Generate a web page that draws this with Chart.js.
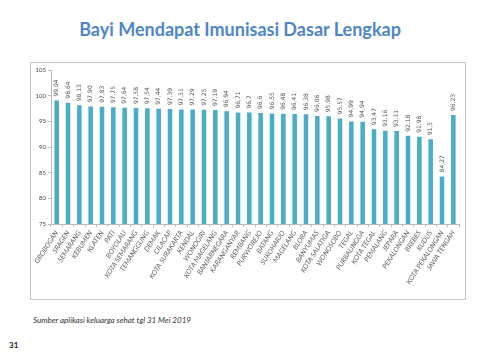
<!DOCTYPE html>
<html lang="id">
<head>
<meta charset="UTF-8">
<title>Bayi Mendapat Imunisasi Dasar Lengkap</title>
<script src="https://cdn.jsdelivr.net/npm/chart.js"></script>
<style>
  body { margin: 0; width: 480px; height: 360px; background: #fff; position: relative; overflow: hidden; font-family: Lato, "Open Sans", sans-serif; }
  h1 { position: absolute; left: 0; width: 480px; top: 18px; margin: 0; text-align: center; font-size: 18px; font-weight: bold; color: #4f86c6; }
  .box { position: absolute; left: 30px; top: 62px; width: 436px; height: 238px; border: 1px solid #c8c8c8; box-sizing: border-box; }
  .src { position: absolute; left: 33px; top: 315px; font-size: 8px; font-style: italic; color: #333; }
  .pg { position: absolute; left: 9px; top: 340px; font-size: 8px; font-weight: bold; color: #222; }
</style>
</head>
<body>
<h1>Bayi Mendapat Imunisasi Dasar Lengkap</h1>
<div class="box"><canvas id="chart"></canvas></div>
<div class="src">Sumber aplikasi keluarga sehat tgl 31 Mei 2019</div>
<div class="pg">31</div>
<script>
const daerah = ["GROBOGAN", "SRAGEN", "SEMARANG", "KEBUMEN", "KLATEN", "PATI", "BOYOLALI", "KOTA SEMARANG",
  "TEMANGGUNG", "DEMAK", "CILACAP", "KOTA SURAKARTA", "KENDAL", "WONOGIRI", "KOTA MAGELANG", "BANJARNEGARA",
  "KARANGANYAR", "REMBANG", "PURWOREJO", "BATANG", "SUKOHARJO", "MAGELANG", "BLORA", "BANYUMAS",
  "KOTA SALATIGA", "WONOSOBO", "TEGAL", "PURBALINGGA", "KOTA TEGAL", "PEMALANG", "JEPARA", "PEKALONGAN",
  "BREBES", "KUDUS", "KOTA PEKALONGAN", "JAWA TENGAH"];
const persen = [99.04, 98.64, 98.13, 97.90, 97.83, 97.75, 97.64, 97.58, 97.54, 97.44, 97.39, 97.31, 97.29,
  97.25, 97.19, 96.94, 96.71, 96.7, 96.6, 96.55, 96.48, 96.41, 96.38, 96.06, 95.98, 95.57, 94.99, 94.94,
  93.47, 93.16, 93.11, 92.18, 91.98, 91.5, 84.27, 96.23];
const labelNilai = ["99,04", "98,64", "98,13", "97,90", "97,83", "97,75", "97,64", "97,58", "97,54", "97,44",
  "97,39", "97,31", "97,29", "97,25", "97,19", "96,94", "96,71", "96,7", "96,6", "96,55", "96,48", "96,41",
  "96,38", "96,06", "95,98", "95,57", "94,99", "94,94", "93,47", "93,16", "93,11", "92,18", "91,98", "91,5",
  "84,27", "96,23"];
const yTicks = [75, 80, 85, 90, 95, 100, 105];

const fontLabel = 'Lato, "Open Sans", sans-serif';

// label nilai di atas batang, diputar vertikal
const nilaiPlugin = {
  id: "nilai",
  afterDatasetsDraw(chart) {
    const ctx = chart.ctx;
    const meta = chart.getDatasetMeta(0);
    ctx.save();
    ctx.font = '6px "DejaVu Sans", sans-serif';
    ctx.fillStyle = "#555";
    ctx.textAlign = "left";
    ctx.textBaseline = "middle";
    meta.data.forEach((bar, i) => {
      ctx.save();
      ctx.translate(bar.x, bar.y - 4);
      ctx.rotate(-Math.PI / 2);
      ctx.fillText(labelNilai[i], 0, 0);
      ctx.restore();
    });
    ctx.restore();
  }
};

new Chart(document.getElementById("chart"), {
  type: "bar",
  data: {
    labels: daerah,
    datasets: [{ data: persen, backgroundColor: "#4bacc6", barPercentage: 0.8, categoryPercentage: 0.5 }]
  },
  options: {
    responsive: true,
    maintainAspectRatio: false,
    animation: false,
    layout: { padding: { top: 7, right: 6, left: 0, bottom: 0 } },
    plugins: { legend: { display: false }, tooltip: { enabled: false } },
    scales: {
      x: {
        grid: { display: true, drawOnChartArea: false, offset: true, tickLength: 3, color: "#bbb" },
        border: { color: "#bbb" },
        ticks: {
          autoSkip: false, maxRotation: 57, minRotation: 57, padding: 2,
          font: { size: 7, style: "italic", family: fontLabel }, color: "#666"
        },
        afterFit(s) { s.height = 75; }
      },
      y: {
        min: 75, max: 105,
        afterBuildTicks(s) { s.ticks = yTicks.map(v => ({ value: v })); },
        grid: { display: true, drawOnChartArea: false, tickLength: 3, color: "#bbb" },
        border: { color: "#bbb" },
        ticks: { font: { size: 6, family: fontLabel }, color: "#444", padding: 2 },
        afterFit(s) { s.width = 20; }
      }
    }
  },
  plugins: [nilaiPlugin]
});
</script>
</body>
</html>
